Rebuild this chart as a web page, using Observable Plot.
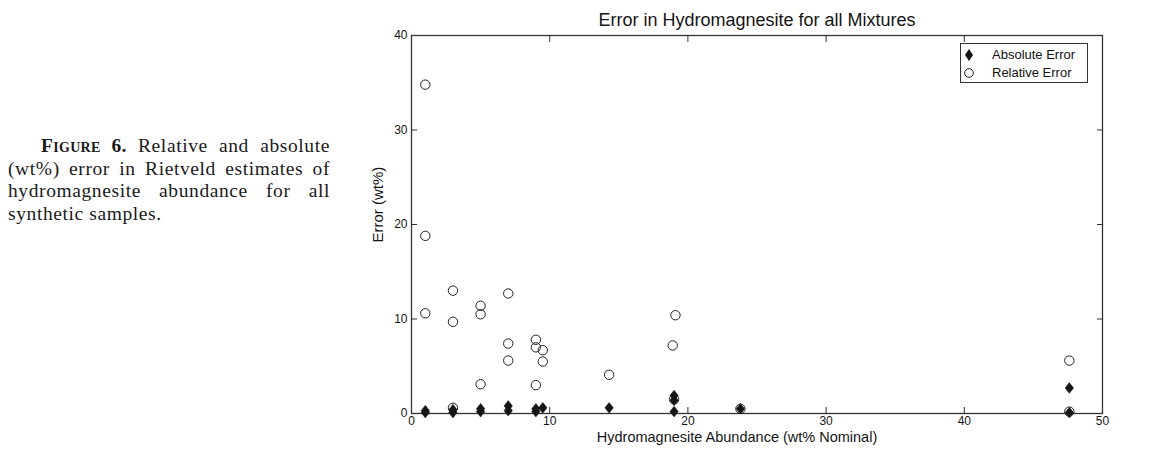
<!DOCTYPE html>
<html>
<head>
<meta charset="utf-8">
<script src="https://cdn.jsdelivr.net/npm/d3@7"></script>
<script src="https://cdn.jsdelivr.net/npm/@observablehq/plot@0.6"></script>
<style>
  html, body { margin: 0; padding: 0; background: #fff; }
  #wrap { position: relative; width: 1158px; height: 453px; overflow: hidden; }
  #chart { position: absolute; left: 0; top: 0; }
  #caption { position: absolute; left: 8px; top: 135px; width: 322px; font-family: "Liberation Serif", "Times New Roman", serif; font-size: 19.5px; letter-spacing: 0.6px; line-height: 22.5px; color: #1a1a1a; }
  #caption .j { text-align: justify; text-align-last: justify; white-space: nowrap; }
  #caption .ind { padding-left: 33px; }
  #caption b { font-variant: small-caps; letter-spacing: 0.3px; }
  #legend { position: absolute; left: 960px; top: 43px; width: 128px; height: 40px; border: 1px solid #333; background: #fff; font-family: "Liberation Sans", Arial, sans-serif; font-size: 13px; color: #111; box-sizing: border-box; }
  #legend .row { position: absolute; left: 0; height: 16px; line-height: 16px; white-space: nowrap; width: 100%; }
  #legend svg { position: absolute; left: 0px; top: 0; }
  #legend span { position: absolute; left: 31px; top: 0; }
</style>
</head>
<body>
<div id="wrap">
  <div id="chart"></div>
  <div id="caption">
    <div class="j ind"><b>Figure 6.</b> Relative and absolute</div>
    <div class="j">(wt%) error in Rietveld estimates of</div>
    <div class="j">hydromagnesite abundance for all</div>
    <div>synthetic samples.</div>
  </div>
  <div id="legend"></div>
</div>
<script>
// ---- data ----
const absNominal = [1, 1, 3, 3, 5, 5, 7, 7, 9, 9, 9.5, 14.3, 19, 19, 19, 23.8, 47.6, 47.6];
const absError   = [0.1, 0.3, 0.1, 0.4, 0.2, 0.5, 0.3, 0.8, 0.2, 0.5, 0.6, 0.6, 0.2, 1.4, 1.9, 0.5, 2.7, 0.1];

const relNominal = [1, 1, 1, 3, 3, 3, 5, 5, 5, 7, 7, 7, 9, 9, 9, 9.5, 9.5, 14.3, 19.1, 18.9, 19, 23.8, 47.6, 47.6];
const relError   = [34.8, 18.8, 10.6, 13.0, 9.7, 0.6, 11.4, 10.5, 3.1, 12.7, 7.4, 5.6, 7.8, 7.0, 3.0, 6.7, 5.5, 4.1, 10.4, 7.2, 1.5, 0.5, 5.6, 0.2];

const xTicks = [0, 10, 20, 30, 40, 50];
const yTicks = [0, 10, 20, 30, 40];

const seriesNames = ["Absolute Error", "Relative Error"];
const titleText = "Error in Hydromagnesite for all Mixtures";
const xLabel = "Hydromagnesite Abundance (wt% Nominal)";
const yLabel = "Error (wt%)";

// ---- build tables ----
const absData = absNominal.map((x, i) => ({x, y: absError[i]}));
const relData = relNominal.map((x, i) => ({x, y: relError[i]}));

const ink = "#151515";
const diamondSym = {
  draw(context, size) {
    const r = Math.sqrt(size / Math.PI);
    const h = r * 1.12, w = r * 0.88;
    context.moveTo(0, -h); context.lineTo(w, 0); context.lineTo(0, h); context.lineTo(-w, 0); context.closePath();
  }
};

const chart = Plot.plot({
  width: 1158,
  height: 453,
  marginLeft: 411,
  marginRight: 56,
  marginTop: 35,
  marginBottom: 40,
  x: {domain: [0, 50]},
  y: {domain: [0, 40]},
  style: {fontFamily: "'Liberation Sans', Arial, sans-serif", fontSize: "12px", color: ink, background: "transparent", overflow: "visible"},
  marks: [
    Plot.frame({stroke: "#333", strokeWidth: 1.3}),
    // inward ticks on all sides
    Plot.axisX(xTicks, {anchor: "bottom", tickSize: -6, tickFormat: () => "", label: null, stroke: "#333"}),
    Plot.axisX(xTicks, {anchor: "top", tickSize: -6, tickFormat: () => "", label: null, stroke: "#333"}),
    Plot.axisY(yTicks, {anchor: "left", tickSize: -6, tickFormat: () => "", label: null, stroke: "#333"}),
    Plot.axisY(yTicks, {anchor: "right", tickSize: -6, tickFormat: () => "", label: null, stroke: "#333"}),
    // tick labels
    Plot.axisX(xTicks, {anchor: "bottom", tickSize: 0, tickPadding: 3, label: null, fontSize: 12}),
    Plot.axisY(yTicks, {anchor: "left", tickSize: 0, tickPadding: 4, label: null, fontSize: 12}),
    // axis titles & chart title
    Plot.text([xLabel], {frameAnchor: "bottom", dy: 28, dx: -20, fontSize: 14.5, fill: ink}),
    Plot.text([yLabel], {frameAnchor: "left", rotate: -90, dx: -33, dy: 18, fontSize: 15, fill: ink}),
    Plot.text([titleText], {frameAnchor: "top", dy: -22, fontSize: 18, fill: ink}),
    // data
    Plot.dot(relData, {x: "x", y: "y", r: 4.7, stroke: "#222", strokeWidth: 1, fill: "none"}),
    Plot.dot(absData, {x: "x", y: "y", r: 4.8, symbol: diamondSym, fill: ink, stroke: ink, strokeWidth: 0.5})
  ]
});
document.getElementById("chart").appendChild(chart);

// ---- legend (HTML) ----
const legend = document.getElementById("legend");
seriesNames.forEach((name, i) => {
  const row = document.createElement("div");
  row.className = "row";
  row.style.top = (i === 0 ? 3 : 21) + "px";
  const s = d3.create("svg").attr("width", 18).attr("height", 16);
  if (i === 0) {
    s.append("path").attr("d", "M8,2L12,8L8,14L4,8Z").attr("fill", ink);
  } else {
    s.append("circle").attr("cx", 8).attr("cy", 8).attr("r", 4.3).attr("fill", "none").attr("stroke", "#222");
  }
  row.appendChild(s.node());
  const t = document.createElement("span");
  t.textContent = name;
  row.appendChild(t);
  legend.appendChild(row);
});
</script>
</body>
</html>
